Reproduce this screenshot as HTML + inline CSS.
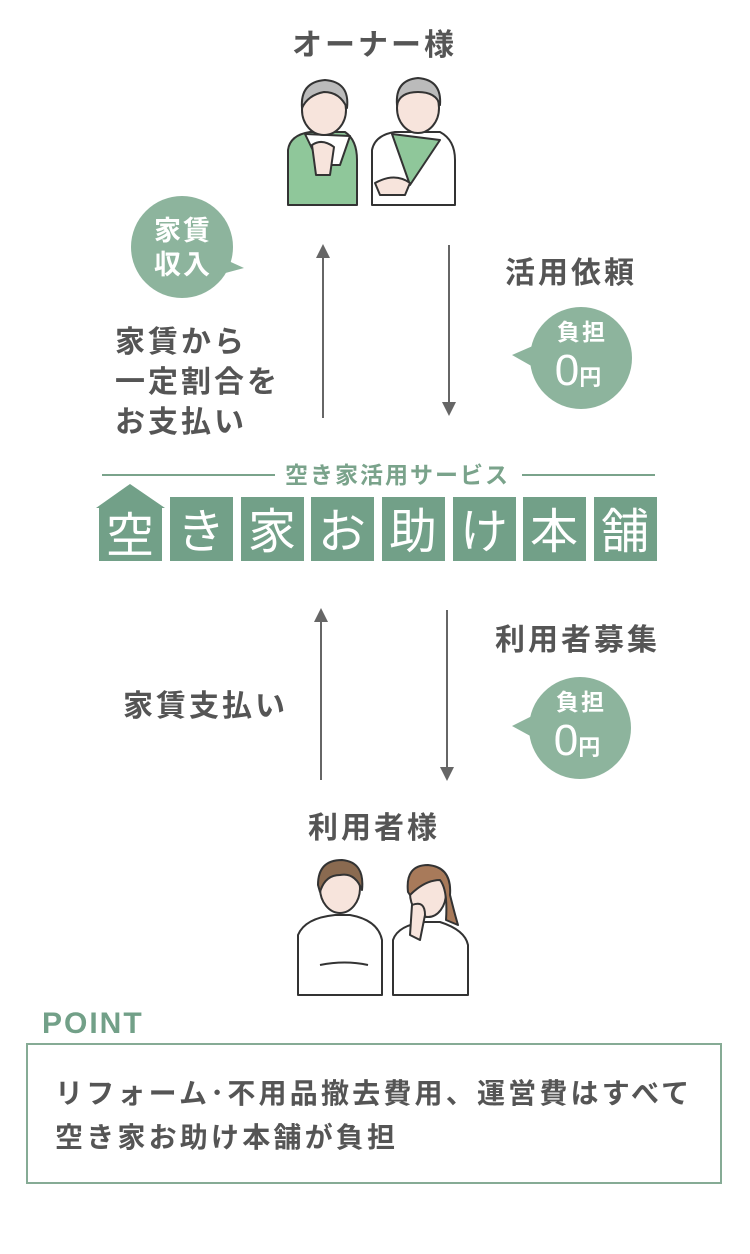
<!DOCTYPE html>
<html><head><meta charset="utf-8"><style>
body{margin:0;background:#fff;}
svg{display:block}
text{font-family:"Liberation Sans","Noto Sans CJK JP",sans-serif;}
</style></head><body>
<svg width="750" height="1254" viewBox="0 0 750 1254" xmlns="http://www.w3.org/2000/svg">
<g fill="#555" font-size="30" font-weight="bold" letter-spacing="3">
<text x="292" y="55">オーナー様</text>
<text x="505" y="283">活用依頼</text>
<text x="115" y="352">家賃から</text>
<text x="115" y="392">一定割合を</text>
<text x="115" y="432">お支払い</text>
<text x="495" y="650">利用者募集</text>
<text x="123" y="716">家賃支払い</text>
<text x="308" y="838">利用者様</text>
</g>
<!-- owners -->
<g stroke="#333" stroke-width="2" stroke-linejoin="round">
<path d="M288 205 L288 150 Q290 135 310 132 L345 132 Q357 140 357 160 L357 205 Z" fill="#8fc79a"/>
<path d="M305 134 L320 165 L340 165 L350 136 Z" fill="#fff"/>
<ellipse cx="324" cy="110" rx="22" ry="25" fill="#f7e4dc"/>
<path d="M302 108 Q300 82 325 80 Q350 82 347 108 Q340 92 324 92 Q308 95 302 108Z" fill="#bbb"/>
<path d="M312 145 Q322 138 334 147 L330 175 L316 175Z" fill="#f7e4dc"/>
<path d="M372 205 L372 150 Q375 135 395 132 L440 132 Q455 140 455 160 L455 205 Z" fill="#fff"/>
<path d="M392 134 L410 185 L440 140 Z" fill="#8fc79a"/>
<ellipse cx="418" cy="108" rx="21" ry="25" fill="#f7e4dc"/>
<path d="M397 105 Q395 80 418 78 Q442 80 440 105 Q436 92 418 92 Q400 92 397 105Z" fill="#bbb"/>
<path d="M375 183 Q395 172 410 183 L405 195 L380 195Z" fill="#f7e4dc"/>
</g>
<!-- users -->
<g stroke="#333" stroke-width="2" stroke-linejoin="round">
<path d="M298 995 L298 935 Q305 918 335 915 L350 915 Q378 920 382 940 L382 995 Z" fill="#fff"/>
<ellipse cx="340" cy="888" rx="20" ry="25" fill="#f7e4dc"/>
<path d="M318 885 Q318 860 342 860 Q365 862 362 890 Q355 872 340 875 Q325 875 320 892Z" fill="#8a6a50"/>
<path d="M320 965 Q345 960 368 965" fill="none"/>
<path d="M393 995 L393 940 Q398 925 425 922 L440 922 Q465 930 468 945 L468 995 Z" fill="#fff"/>
<ellipse cx="428" cy="893" rx="18" ry="24" fill="#f7e4dc"/>
<path d="M408 892 Q405 865 428 865 Q452 867 450 895 Q455 915 458 925 L446 920 Q448 890 440 880 Q425 880 410 895Z" fill="#a87a5a"/>
<path d="M412 905 Q425 900 425 915 L420 940 L410 935Z" fill="#f7e4dc"/>
</g>
<!-- arrows -->
<g stroke="#666" stroke-width="2">
<line x1="323" y1="255" x2="323" y2="418"/>
<line x1="449" y1="245" x2="449" y2="405"/>
<line x1="321" y1="620" x2="321" y2="780"/>
<line x1="447" y1="610" x2="447" y2="770"/>
</g>
<g fill="#666">
<polygon points="316,258 330,258 323,244"/>
<polygon points="442,402 456,402 449,416"/>
<polygon points="314,622 328,622 321,608"/>
<polygon points="440,767 454,767 447,781"/>
</g>
<!-- bubbles -->
<g fill="#8db49d">
<circle cx="182" cy="247" r="51"/><polygon points="222,258 244,268 218,275"/>
<circle cx="581" cy="358" r="51"/><polygon points="535,345 512,355 535,368"/>
<circle cx="580" cy="728" r="51"/><polygon points="534,715 512,726 534,738"/>
</g>
<g fill="#fff" font-weight="bold" text-anchor="middle">
<text x="183" y="240" font-size="27" letter-spacing="2">家賃</text>
<text x="183" y="274" font-size="27" letter-spacing="2">収入</text>
<text x="582" y="340" font-size="23" letter-spacing="2">負担</text>
<text x="578" y="385" font-size="44" font-weight="normal">0<tspan font-size="22" font-weight="bold">円</tspan></text>
<text x="581" y="710" font-size="23" letter-spacing="2">負担</text>
<text x="577" y="755" font-size="44" font-weight="normal">0<tspan font-size="22" font-weight="bold">円</tspan></text>
</g>
<!-- logo -->
<g stroke="#7aa38b" stroke-width="2">
<line x1="102" y1="475" x2="275" y2="475"/>
<line x1="522" y1="475" x2="655" y2="475"/>
</g>
<text x="285" y="483" fill="#7aa38b" font-size="23" font-weight="bold" letter-spacing="2">空き家活用サービス</text>
<g fill="#72a088">
<polygon points="96,508 130,484 165,508"/>
<rect x="99" y="508" width="63" height="53"/>
<rect x="170" y="497" width="63" height="64"/>
<rect x="241" y="497" width="63" height="64"/>
<rect x="311" y="497" width="63" height="64"/>
<rect x="382" y="497" width="63" height="64"/>
<rect x="453" y="497" width="63" height="64"/>
<rect x="523" y="497" width="63" height="64"/>
<rect x="594" y="497" width="63" height="64"/>
</g>
<g fill="#fff" font-size="48" text-anchor="middle">
<text x="130" y="552">空</text><text x="201" y="548">き</text><text x="272" y="548">家</text><text x="342" y="548">お</text><text x="413" y="548">助</text><text x="484" y="548">け</text><text x="554" y="548">本</text><text x="625" y="548">舗</text>
</g>
<!-- point -->
<text x="42" y="1033" fill="#72a088" font-size="30" font-weight="bold" letter-spacing="2">POINT</text>
<rect x="27" y="1044" width="694" height="139" fill="#fff" stroke="#86ab95" stroke-width="2"/>
<g fill="#555" font-size="28" font-weight="bold" letter-spacing="3.2">
<text x="55" y="1103">リフォーム･不用品撤去費用、運営費はすべて</text>
<text x="55" y="1147">空き家お助け本舗が負担</text>
</g>
</svg>
</body></html>
